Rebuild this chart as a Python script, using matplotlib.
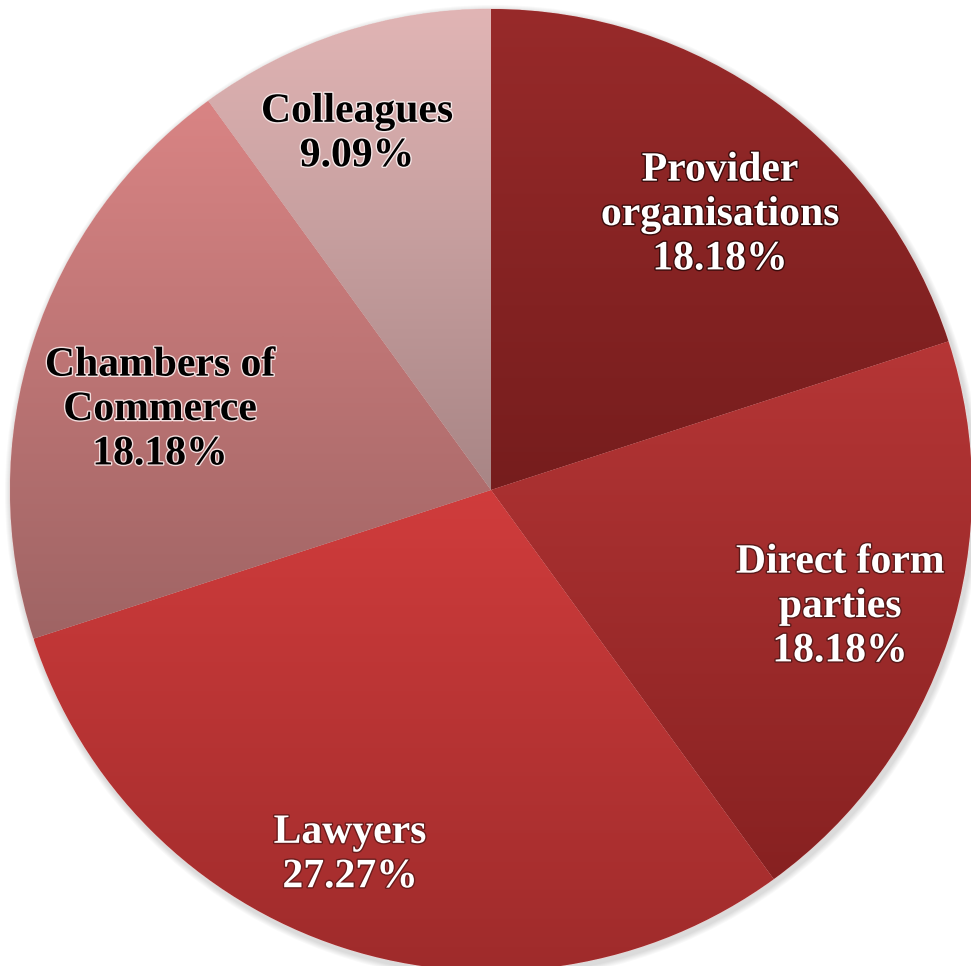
import numpy as np
import matplotlib
matplotlib.use("Agg")
import matplotlib.pyplot as plt
import matplotlib.patheffects as pe
from matplotlib.colors import LinearSegmentedColormap

# data, clockwise from 12 o'clock
labels = ["Provider\norganisations", "Direct form\nparties", "Lawyers",
          "Chambers of\nCommerce", "Colleagues"]
shares = [18.18, 18.18, 27.27, 18.18, 9.09]

# top / bottom colour of each slice's vertical gradient
top_cols = ["#982a2a", "#b63636", "#d03c3c", "#d98484", "#e1b5b5"]
bot_cols = ["#761d1d", "#872121", "#9e2b2b", "#9f6464", "#a88585"]
txt_cols = ["white", "white", "white", "black", "black"]
halo_cols = ["#3a0c0c", "#5a1a1a", "#6a1c1c", "#f3dede", "#f5e8e8"]

# label offsets from centre, in pixels (x right, y up)
lab_off = [(229, 275), (349, -117), (-141, -365), (-331, 80), (-134, 356)]

W, H = 971, 966
cx, cy, R = 491, 966 - 490, 481

fig = plt.figure(figsize=(W / 100, H / 100), dpi=100)
ax = fig.add_axes([0, 0, 1, 1])

# soft shadow around the pie
for k in range(6):
    ax.add_patch(plt.Circle((cx + 2, cy - 3), R + 7 - k, color="#000000",
                            alpha=0.025, lw=0, zorder=0))

wedges, _ = ax.pie(shares, startangle=90, counterclock=False,
                   center=(cx, cy), radius=R, frame=True,
                   wedgeprops=dict(linewidth=0.6, edgecolor="#f0d0d0"))

grad = np.linspace(1, 0, 256).reshape(-1, 1)
for i, w in enumerate(wedges):
    v = w.get_path().vertices
    ymin, ymax = v[:, 1].min(), v[:, 1].max()
    xmin, xmax = v[:, 0].min(), v[:, 0].max()
    cmap = LinearSegmentedColormap.from_list("g%d" % i, [bot_cols[i], top_cols[i]])
    w.set_facecolor(bot_cols[i])
    im = ax.imshow(grad, cmap=cmap, vmin=0, vmax=1, aspect="auto",
                   extent=(xmin, xmax, ymin, ymax), zorder=w.get_zorder() + 0.1,
                   interpolation="bilinear")
    im.set_clip_path(w)

for i, lab in enumerate(labels):
    dx, dy = lab_off[i]
    ax.text(cx + dx, cy + dy, "%s\n%.2f%%" % (lab, shares[i]),
            ha="center", va="center", fontsize=30, fontweight="bold",
            family=["Liberation Serif", "DejaVu Serif"], color=txt_cols[i],
            linespacing=1.22, zorder=10,
            path_effects=[pe.withStroke(linewidth=2, foreground=halo_cols[i])])

ax.set_xlim(0, W)
ax.set_ylim(0, H)
ax.set_aspect("equal")
ax.axis("off")
fig.savefig("out.png", dpi=100)
